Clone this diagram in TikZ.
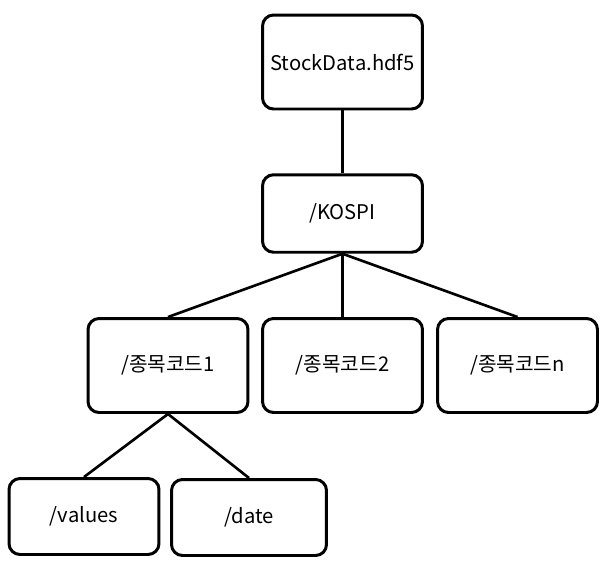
\documentclass[tikz,border=0pt]{standalone}
\usepackage{fontspec}
\setmainfont{Noto Sans CJK KR}
\tikzset{
  hbox/.style={draw=black, line width=1.7pt, rounded corners=0.22cm, fill=white,
    minimum width=3.2cm, minimum height=1.88cm, inner sep=0pt,
    font=\fontsize{11.5}{13.5}\selectfont},
  leafbox/.style={hbox, minimum width=3.0cm, minimum height=1.52cm},
  link/.style={line width=1.5pt}
}
\begin{document}
\begin{tikzpicture}[x=0.02cm, y=-0.02cm]
\useasboundingbox (0,0) rectangle (608,565);
\node[hbox] (stock) at (342.5,62) {StockData.hdf5};
\node[hbox, minimum height=1.55cm] (kospi) at (342.5,213.5) {/KOSPI};
\node[hbox] (code1) at (168,365.5) {/종목코드1};
\node[hbox] (code2) at (342.5,365.5) {/종목코드2};
\node[hbox] (coden) at (517.5,365.5) {/종목코드n};
\node[leafbox] (values) at (84,516.5) {/values};
\node[leafbox, minimum width=3.1cm] (date) at (249,517.5) {/date};
\draw[link] (stock) -- (kospi);
\draw[link] (kospi.south) -- (code1.north)
            (kospi.south) -- (code2.north)
            (kospi.south) -- (coden.north);
\draw[link] (code1.south) -- (values.north)
            (code1.south) -- (date.north);
\end{tikzpicture}
\end{document}
